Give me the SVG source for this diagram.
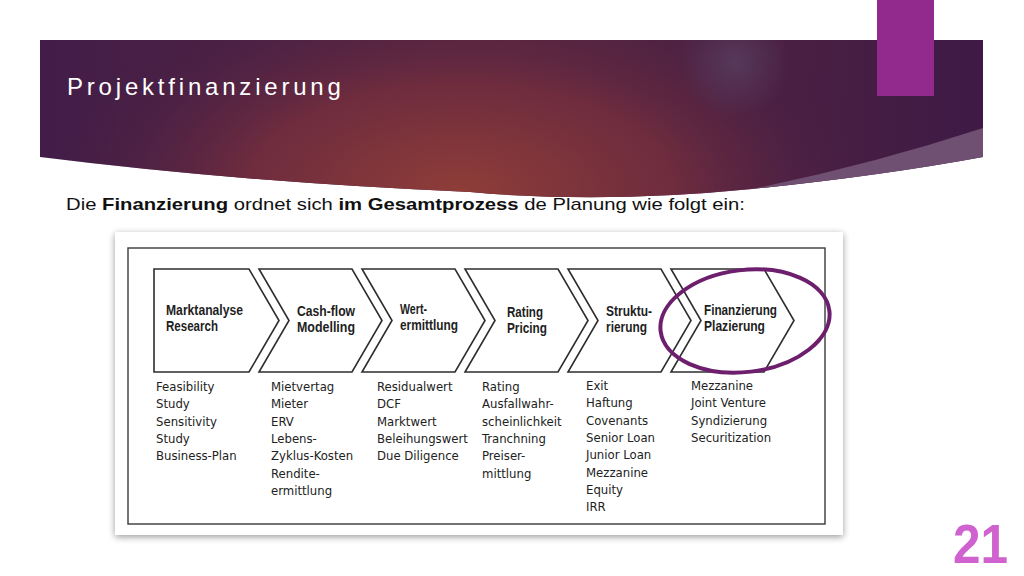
<svg xmlns="http://www.w3.org/2000/svg" width="1024" height="576" viewBox="0 0 1024 576">
<defs>
<radialGradient id="red" cx="460" cy="190" r="430" gradientUnits="userSpaceOnUse" gradientTransform="translate(460 190) scale(1 0.5) translate(-460 -190)">
<stop offset="0" stop-color="#8e3d38"/>
<stop offset="0.5" stop-color="#6e2c3e"/>
<stop offset="1" stop-color="#3f1c46" stop-opacity="0"/>
</radialGradient>
<linearGradient id="base" x1="0" y1="0" x2="1" y2="0">
<stop offset="0" stop-color="#421d48"/>
<stop offset="0.5" stop-color="#5a2740"/>
<stop offset="1" stop-color="#3e1a45"/>
</linearGradient>
<radialGradient id="glow" cx="735" cy="62" r="55" gradientUnits="userSpaceOnUse">
<stop offset="0" stop-color="#573b5e" stop-opacity="0.9"/>
<stop offset="1" stop-color="#573b5e" stop-opacity="0"/>
</radialGradient>
<filter id="shadow" x="-5%" y="-5%" width="110%" height="115%">
<feGaussianBlur in="SourceAlpha" stdDeviation="3.5"/>
<feOffset dx="0" dy="2"/>
<feComponentTransfer><feFuncA type="linear" slope="0.4"/></feComponentTransfer>
<feMerge><feMergeNode/><feMergeNode in="SourceGraphic"/></feMerge>
</filter>
</defs>
<style>
.chev{fill:#ffffff;stroke:#2e2e2e;stroke-width:1.6;stroke-linejoin:miter}
.lab{font-family:"Liberation Sans",Arial,sans-serif;font-weight:bold;font-size:15px;fill:#1e1e1e}
.lst{font-family:"DejaVu Sans Condensed","DejaVu Sans",sans-serif;font-stretch:condensed;font-size:13px;fill:#222222}
</style>
<rect width="1024" height="576" fill="#ffffff"/>
<g id="header">
<path d="M40,40 H983 V157 Q880,176 752,189 Q600,204 470,192 Q240,182 40,157 Z" fill="url(#base)"/>
<path d="M40,40 H983 V157 Q880,176 752,189 Q600,204 470,192 Q240,182 40,157 Z" fill="url(#red)"/>
<rect x="40" y="40" width="943" height="150" fill="url(#glow)"/>
<path d="M983,128 Q870,165 752,189 Q880,176 983,157 Z" fill="#6f4f72"/>
<rect x="877" y="0" width="57" height="96" fill="#922a8e"/>
<text x="67" y="95" font-family="Liberation Sans, sans-serif" font-size="24" letter-spacing="3.8" fill="#ffffff">Projektfinanzierung</text>
</g>
<text x="66" y="210" font-family="Liberation Sans, sans-serif" font-size="17" fill="#111111" textLength="679" lengthAdjust="spacingAndGlyphs">Die <tspan font-weight="bold">Finanzierung</tspan> ordnet sich <tspan font-weight="bold">im Gesamtprozess</tspan> de Planung wie folgt ein:</text>
<g id="frame">
<rect x="115" y="232" width="728" height="303" fill="#ffffff" filter="url(#shadow)"/>
<rect x="128" y="248" width="697" height="276" fill="none" stroke="#3a3a3a" stroke-width="1.4"/>
</g>
<g id="n1"><path class="chev" d="M154,269 H249 L279,320.5 L249,372 H154 Z"/><text class="lab" x="166" y="315" textLength="77" lengthAdjust="spacingAndGlyphs">Marktanalyse</text><text class="lab" x="166" y="331" textLength="52" lengthAdjust="spacingAndGlyphs">Research</text></g>
<g id="n2"><path class="chev" d="M259,269 H352 L382,320.5 L352,372 H259 L289,320.5 Z"/><text class="lab" x="297" y="316" textLength="58" lengthAdjust="spacingAndGlyphs">Cash-flow</text><text class="lab" x="297" y="332" textLength="58" lengthAdjust="spacingAndGlyphs">Modelling</text></g>
<g id="n3"><path class="chev" d="M362,269 H455 L485,320.5 L455,372 H362 L392,320.5 Z"/><text class="lab" x="400" y="314" textLength="27" lengthAdjust="spacingAndGlyphs">Wert-</text><text class="lab" x="400" y="330" textLength="58" lengthAdjust="spacingAndGlyphs">ermittlung</text></g>
<g id="n4"><path class="chev" d="M465,269 H558 L588,320.5 L558,372 H465 L495,320.5 Z"/><text class="lab" x="507" y="317" textLength="36" lengthAdjust="spacingAndGlyphs">Rating</text><text class="lab" x="507" y="333" textLength="40" lengthAdjust="spacingAndGlyphs">Pricing</text></g>
<g id="n5"><path class="chev" d="M568,269 H661 L691,320.5 L661,372 H568 L598,320.5 Z"/><text class="lab" x="606" y="316" textLength="46" lengthAdjust="spacingAndGlyphs">Struktu-</text><text class="lab" x="606" y="332" textLength="41" lengthAdjust="spacingAndGlyphs">rierung</text></g>
<g id="n6"><path class="chev" d="M671,269 H764 L794,320.5 L764,372 H671 L701,320.5 Z"/><text class="lab" x="704" y="315" textLength="73" lengthAdjust="spacingAndGlyphs">Finanzierung</text><text class="lab" x="704" y="331" textLength="61" lengthAdjust="spacingAndGlyphs">Plazierung</text></g>
<g id="lists">
<text class="lst" x="156" y="391"><tspan x="156" dy="0">Feasibility</tspan><tspan x="156" dy="17.3">Study</tspan><tspan x="156" dy="17.3">Sensitivity</tspan><tspan x="156" dy="17.3">Study</tspan><tspan x="156" dy="17.3">Business-Plan</tspan></text>
<text class="lst" x="271" y="391"><tspan x="271" dy="0">Mietvertag</tspan><tspan x="271" dy="17.3">Mieter</tspan><tspan x="271" dy="17.3">ERV</tspan><tspan x="271" dy="17.3">Lebens-</tspan><tspan x="271" dy="17.3">Zyklus-Kosten</tspan><tspan x="271" dy="17.3">Rendite-</tspan><tspan x="271" dy="17.3">ermittlung</tspan></text>
<text class="lst" x="377" y="391"><tspan x="377" dy="0">Residualwert</tspan><tspan x="377" dy="17.3">DCF</tspan><tspan x="377" dy="17.3">Marktwert</tspan><tspan x="377" dy="17.3">Beleihungswert</tspan><tspan x="377" dy="17.3">Due Diligence</tspan></text>
<text class="lst" x="482" y="391"><tspan x="482" dy="0">Rating</tspan><tspan x="482" dy="17.3">Ausfallwahr-</tspan><tspan x="482" dy="17.3">scheinlichkeit</tspan><tspan x="482" dy="17.3">Tranchning</tspan><tspan x="482" dy="17.3">Preiser-</tspan><tspan x="482" dy="17.3">mittlung</tspan></text>
<text class="lst" x="586" y="390"><tspan x="586" dy="0">Exit</tspan><tspan x="586" dy="17.3">Haftung</tspan><tspan x="586" dy="17.3">Covenants</tspan><tspan x="586" dy="17.3">Senior Loan</tspan><tspan x="586" dy="17.3">Junior Loan</tspan><tspan x="586" dy="17.3">Mezzanine</tspan><tspan x="586" dy="17.3">Equity</tspan><tspan x="586" dy="17.3">IRR</tspan></text>
<text class="lst" x="691" y="390"><tspan x="691" dy="0">Mezzanine</tspan><tspan x="691" dy="17.3">Joint Venture</tspan><tspan x="691" dy="17.3">Syndizierung</tspan><tspan x="691" dy="17.3">Securitization</tspan></text>
</g>
<g id="highlight">
<ellipse cx="745" cy="321" rx="85" ry="51" transform="rotate(-7 745 321)" fill="none" stroke="#6d1f6d" stroke-width="4"/>
</g>
<text x="1008" y="563" text-anchor="end" font-family="Liberation Sans, sans-serif" font-weight="bold" font-size="56" fill="#d062d0" textLength="55" lengthAdjust="spacingAndGlyphs">21</text>
</svg>
